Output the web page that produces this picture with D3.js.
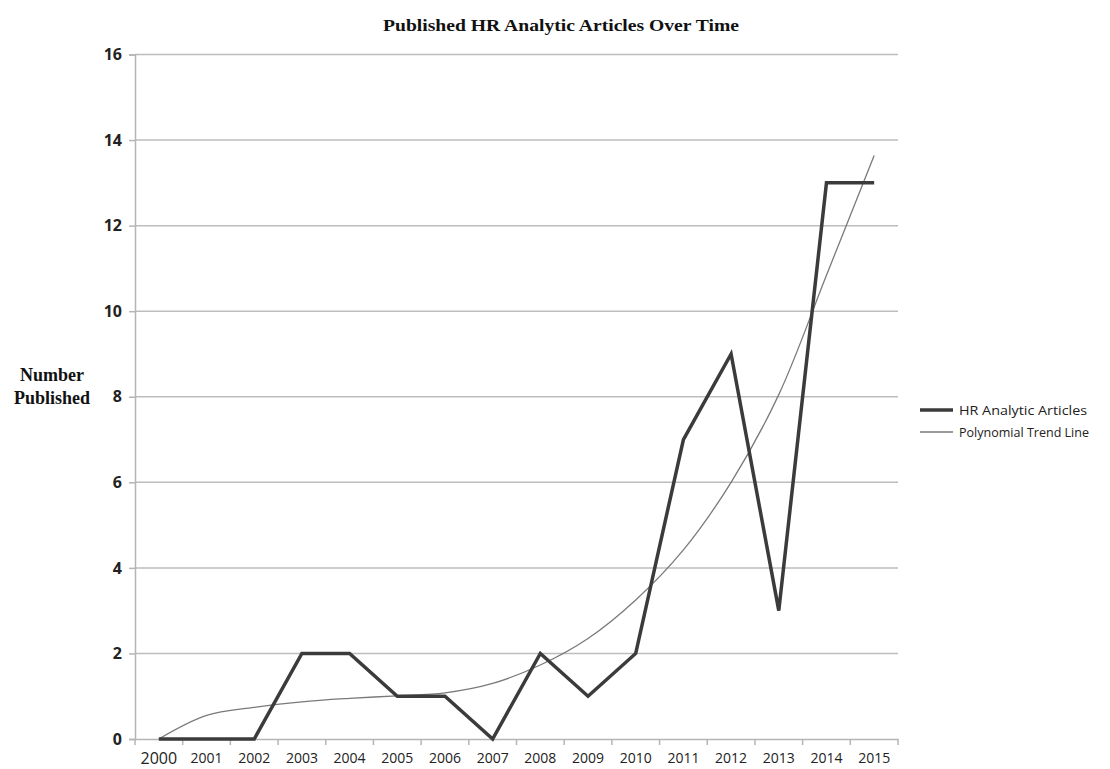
<!DOCTYPE html>
<html><head><meta charset="utf-8">
<script src="https://cdn.jsdelivr.net/npm/d3@7"></script>
<style>body{margin:0;background:#fff}svg{display:block}</style>
</head><body>
<svg id="chart" width="1110" height="769"></svg>
<script>
const years = ["2000","2001","2002","2003","2004","2005","2006","2007","2008","2009","2010","2011","2012","2013","2014","2015"];
const articles = [0,0,0,2,2,1,1,0,2,1,2,7,9,3,13,13];
const trend = [0,0.55,0.74,0.87,0.95,1.01,1.08,1.3,1.73,2.35,3.25,4.42,6.0,8.05,10.84,13.64];
const yTicks = [0,2,4,6,8,10,12,14,16];
const title = "Published HR Analytic Articles Over Time";
const yTitle = ["Number","Published"];
const seriesNames = ["HR Analytic Articles","Polynomial Trend Line"];

const svg = d3.select("#chart");
const x = d3.scaleBand().domain(years).range([135, 898]);
const y = d3.scaleLinear().domain([0,16]).range([739, 54.5]);
const cx = d => x(d) + x.bandwidth()/2;

// gridlines
svg.append("g").selectAll("line").data(yTicks.filter(d=>d>0)).join("line")
  .attr("x1",135).attr("x2",898).attr("y1",d=>y(d)).attr("y2",d=>y(d))
  .attr("stroke","#bdbdbd").attr("stroke-width",1.5);

// y axis
const ya = svg.append("g").attr("transform","translate(135,0)")
  .call(d3.axisLeft(y).tickValues(yTicks).tickSize(6).tickPadding(7).tickFormat(d3.format("d")));
ya.select(".domain").attr("stroke","#b5b5b5").attr("stroke-width",1.5);
ya.selectAll(".tick line").attr("stroke","#b5b5b5").attr("stroke-width",1.5);
ya.selectAll("text").attr("font-family","'Open Sans', sans-serif").attr("font-weight","700")
  .attr("font-size","16px").attr("fill","#222");

// x axis
const xa = svg.append("g").attr("transform","translate(0,739)")
  .call(d3.axisBottom(x).tickSize(0).tickPadding(14));
xa.select(".domain").attr("stroke","#b5b5b5").attr("stroke-width",1.5);
xa.selectAll("text").attr("font-family","'Open Sans', sans-serif")
  .attr("font-size",(d,i)=> i===0 ? "16px" : "14px").attr("fill","#222");
// boundary ticks
const bounds = years.map(d=>x(d)).concat([898]);
svg.append("g").selectAll("line").data(bounds).join("line")
  .attr("x1",d=>d).attr("x2",d=>d).attr("y1",739).attr("y2",745)
  .attr("stroke","#b5b5b5").attr("stroke-width",1.5);

// trend line
svg.append("path").datum(trend)
  .attr("d", d3.line().x((d,i)=>cx(years[i])).y(d=>y(d)).curve(d3.curveCatmullRom.alpha(0.5)))
  .attr("fill","none").attr("stroke","#7a7a7a").attr("stroke-width",1.3);

// articles line
svg.append("path").datum(articles)
  .attr("d", d3.line().x((d,i)=>cx(years[i])).y(d=>y(d)))
  .attr("fill","none").attr("stroke","#3b3b3b").attr("stroke-width",3.5).attr("stroke-linejoin","miter");

// title
svg.append("text").attr("x",561).attr("y",31).attr("text-anchor","middle")
  .attr("font-family","'Liberation Serif','Times New Roman',serif").attr("font-weight","700")
  .attr("font-size","17px").attr("fill","#111")
  .attr("textLength",356).attr("lengthAdjust","spacingAndGlyphs").text(title);

// y title
svg.append("g").selectAll("text").data(yTitle).join("text")
  .attr("x",52).attr("y",(d,i)=>381+i*23).attr("text-anchor","middle")
  .attr("font-family","'Liberation Serif','Times New Roman',serif").attr("font-weight","700")
  .attr("font-size","18px").attr("fill","#111").text(d=>d);

// legend
const lg = svg.append("g");
const legY = [410, 432];
lg.selectAll("line").data(seriesNames).join("line")
  .attr("x1",920).attr("x2",953).attr("y1",(d,i)=>legY[i]).attr("y2",(d,i)=>legY[i])
  .attr("stroke",(d,i)=> i===0 ? "#3b3b3b" : "#7a7a7a").attr("stroke-width",(d,i)=> i===0 ? 3.5 : 1.5);
lg.selectAll("text").data(seriesNames).join("text")
  .attr("x",959).attr("y",(d,i)=>legY[i]+5)
  .attr("font-family","'Open Sans', sans-serif").attr("font-size","13px").attr("fill","#222")
  .attr("textLength",(d,i)=> i===0 ? 128 : 130).attr("lengthAdjust","spacingAndGlyphs")
  .text(d=>d);
</script>
</body></html>
